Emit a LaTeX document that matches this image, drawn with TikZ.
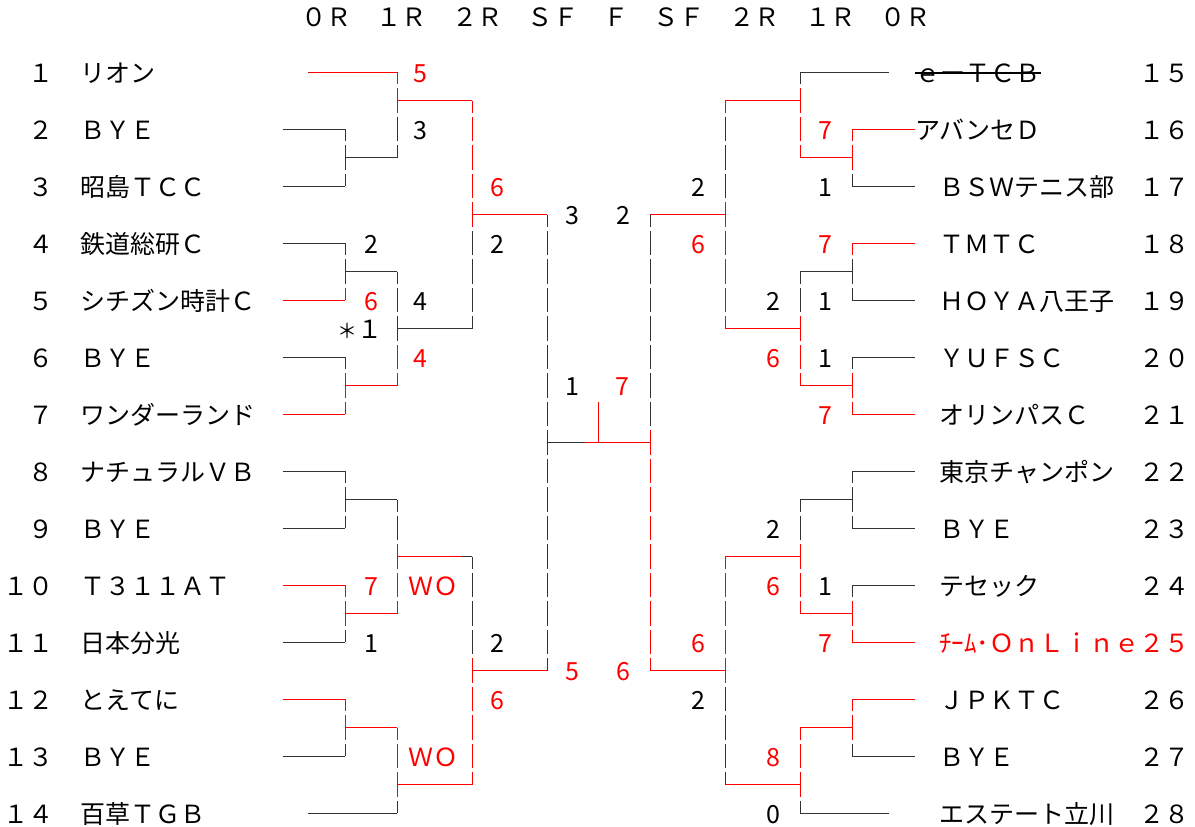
\documentclass[tikz,border=0pt]{standalone}
\usepackage{fontspec}
\setmainfont{Noto Sans CJK JP}

\tikzset{
  lost/.style={draw=black!80, line width=0.75pt},
  won/.style={draw=red, line width=0.75pt},
  cell/.style={dash pattern=on 18.375pt off 3pt, dash phase=9.1875pt},
  team/.style={anchor=base west, inner sep=0pt, yshift=-7.5pt},
  seed/.style={anchor=base east, inner sep=0pt, yshift=-7.5pt},
  score/.style={anchor=base, inner sep=0pt, yshift=-7.5pt},
}

\begin{document}
\begin{tikzpicture}[x=0.75pt, y=-21.375pt, font=\fontsize{18.75}{22}\selectfont]
\useasboundingbox (0,-2.5263) rectangle (1195,26.491);

\node[score, font=\fontsize{18.9}{22}\selectfont] (hdr) at (616,-1.93) {０Ｒ　１Ｒ　２Ｒ　ＳＦ　Ｆ　ＳＦ　２Ｒ　１Ｒ　０Ｒ};

\node[seed] (sd1) at (54,0) {１};
\node[team] (tm1) at (80,0) {リオン};
\node[seed] (sd2) at (54,2) {２};
\node[team] (tm2) at (80,2) {ＢＹＥ};
\node[seed] (sd3) at (54,4) {３};
\node[team] (tm3) at (80,4) {昭島ＴＣＣ};
\node[seed] (sd4) at (54,6) {４};
\node[team] (tm4) at (80,6) {鉄道総研Ｃ};
\node[seed] (sd5) at (54,8) {５};
\node[team] (tm5) at (80,8) {シチズン時計Ｃ};
\node[seed] (sd6) at (54,10) {６};
\node[team] (tm6) at (80,10) {ＢＹＥ};
\node[seed] (sd7) at (54,12) {７};
\node[team] (tm7) at (80,12) {ワンダーランド};
\node[seed] (sd8) at (54,14) {８};
\node[team] (tm8) at (80,14) {ナチュラルＶＢ};
\node[seed] (sd9) at (54,16) {９};
\node[team] (tm9) at (80,16) {ＢＹＥ};
\node[seed] (sd10) at (54,18) {１０};
\node[team] (tm10) at (80,18) {Ｔ３１１ＡＴ};
\node[seed] (sd11) at (54,20) {１１};
\node[team] (tm11) at (80,20) {日本分光};
\node[seed] (sd12) at (54,22) {１２};
\node[team] (tm12) at (80,22) {とえてに};
\node[seed] (sd13) at (54,24) {１３};
\node[team] (tm13) at (80,24) {ＢＹＥ};
\node[seed] (sd14) at (54,26) {１４};
\node[team] (tm14) at (80,26) {百草ＴＧＢ};

\node[team] (tm15) at (915,0) {ｅーＴＣＢ};
\node[seed] (sd15) at (1190,0) {１５};
\node[team] (tm16) at (915,2) {アバンセＤ};
\node[seed] (sd16) at (1190,2) {１６};
\node[team] (tm17) at (939,4) {ＢＳＷテニス部};
\node[seed] (sd17) at (1190,4) {１７};
\node[team] (tm18) at (939,6) {ＴＭＴＣ};
\node[seed] (sd18) at (1190,6) {１８};
\node[team] (tm19) at (939,8) {ＨＯＹＡ八王子};
\node[seed] (sd19) at (1190,8) {１９};
\node[team] (tm20) at (939,10) {ＹＵＦＳＣ};
\node[seed] (sd20) at (1190,10) {２０};
\node[team] (tm21) at (939,12) {オリンパスＣ};
\node[seed] (sd21) at (1190,12) {２１};
\node[team] (tm22) at (939,14) {東京チャンポン};
\node[seed] (sd22) at (1190,14) {２２};
\node[team] (tm23) at (939,16) {ＢＹＥ};
\node[seed] (sd23) at (1190,16) {２３};
\node[team] (tm24) at (939,18) {テセック};
\node[seed] (sd24) at (1190,18) {２４};
\node[team, text=red] (tm25) at (939,20) {ﾁｰﾑ･ＯｎＬｉｎｅ};
\node[seed, text=red] (sd25) at (1190,20) {２５};
\node[team] (tm26) at (939,22) {ＪＰＫＴＣ};
\node[seed] (sd26) at (1190,22) {２６};
\node[team] (tm27) at (939,24) {ＢＹＥ};
\node[seed] (sd27) at (1190,24) {２７};
\node[team] (tm28) at (939,26) {エステート立川};
\node[seed] (sd28) at (1190,26) {２８};
\draw[line width=1.5pt] (tm15.west) -- (tm15.east);

\draw[won] (308,0) -- (397,0);
\draw[lost] (283,2) -- (345,2);
\draw[lost] (283,4) -- (345,4);
\draw[lost, cell] (345,2) -- (345,4);
\draw[lost] (345,3) -- (397,3);
\draw[won, cell] (397,0) -- (397,1.5);
\draw[lost, cell] (397,3) -- (397,1.5);
\draw[won] (397,1) -- (472,1);
\draw[lost] (283,6) -- (345,6);
\draw[won] (283,8) -- (345,8);
\draw[lost, cell] (345,6) -- (345,7.5);
\draw[won, cell] (345,8) -- (345,7.5);
\draw[lost] (345,7) -- (397,7);
\draw[lost] (283,10) -- (345,10);
\draw[won] (283,12) -- (345,12);
\draw[lost, cell] (345,10) -- (345,10.5);
\draw[won, cell] (345,12) -- (345,10.5);
\draw[won] (345,11) -- (397,11);
\draw[lost, cell] (397,7) -- (397,9.5);
\draw[won, cell] (397,11) -- (397,9.5);
\draw[lost] (397,9) -- (472,9);
\draw[won, cell] (472,1) -- (472,5.5);
\draw[lost, cell] (472,9) -- (472,5.5);
\draw[won] (472,5) -- (547,5);

\draw[lost] (283,14) -- (345,14);
\draw[lost] (283,16) -- (345,16);
\draw[lost, cell] (345,14) -- (345,16);
\draw[lost] (345,15) -- (397,15);
\draw[won] (283,18) -- (345,18);
\draw[lost] (283,20) -- (345,20);
\draw[won, cell] (345,18) -- (345,19.5);
\draw[lost, cell] (345,20) -- (345,19.5);
\draw[won] (345,19) -- (397,19);
\draw[lost, cell] (397,15) -- (397,16.5);
\draw[won, cell] (397,19) -- (397,16.5);
\draw[won] (397,17) -- (462,17);
\draw[lost] (462,17) -- (472,17);
\draw[won] (283,22) -- (345,22);
\draw[lost] (283,24) -- (345,24);
\draw[won, cell] (345,22) -- (345,23.5);
\draw[lost, cell] (345,24) -- (345,23.5);
\draw[won] (345,23) -- (397,23);
\draw[lost] (308,26) -- (397,26);
\draw[won, cell] (397,23) -- (397,25.5);
\draw[lost, cell] (397,26) -- (397,25.5);
\draw[won] (397,25) -- (472,25);
\draw[lost, cell] (472,17) -- (472,20.5);
\draw[won, cell] (472,25) -- (472,20.5);
\draw[won] (472,21) -- (547,21);
\draw[lost, cell] (547,5) -- (547,21);

\draw[lost] (547,13) -- (585,13);
\draw[won] (585,13) -- (650,13);
\draw[won] (598,11.58) -- (598,13);

\draw[lost] (800,0) -- (889,0);
\draw[won] (852,2) -- (915,2);
\draw[lost] (852,4) -- (915,4);
\draw[won, cell] (852,2) -- (852,3.5);
\draw[lost, cell] (852,4) -- (852,3.5);
\draw[won] (800,3) -- (852,3);
\draw[lost, cell] (800,0) -- (800,0.5);
\draw[won, cell] (800,3) -- (800,0.5);
\draw[won] (725,1) -- (800,1);
\draw[won] (852,6) -- (915,6);
\draw[lost] (852,8) -- (915,8);
\draw[won, cell] (852,6) -- (852,6.5);
\draw[lost, cell] (852,8) -- (852,6.5);
\draw[lost] (800,7) -- (852,7);
\draw[lost] (852,10) -- (915,10);
\draw[won] (852,12) -- (915,12);
\draw[lost, cell] (852,10) -- (852,10.5);
\draw[won, cell] (852,12) -- (852,10.5);
\draw[won] (800,11) -- (852,11);
\draw[lost, cell] (800,7) -- (800,8.5);
\draw[won, cell] (800,11) -- (800,8.5);
\draw[won] (725,9) -- (800,9);
\draw[lost, cell] (725,1) -- (725,9);
\draw[won, cell] (725,1) -- (725,1.5);
\draw[won, cell] (725,9) -- (725,4.5);
\draw[won] (650,5) -- (725,5);

\draw[lost] (852,14) -- (915,14);
\draw[lost] (852,16) -- (915,16);
\draw[lost, cell] (852,14) -- (852,16);
\draw[lost] (800,15) -- (852,15);
\draw[lost] (852,18) -- (915,18);
\draw[won] (852,20) -- (915,20);
\draw[lost, cell] (852,18) -- (852,18.5);
\draw[won, cell] (852,20) -- (852,18.5);
\draw[won] (800,19) -- (852,19);
\draw[lost, cell] (800,15) -- (800,16.5);
\draw[won, cell] (800,19) -- (800,16.5);
\draw[won] (725,17) -- (800,17);
\draw[won] (852,22) -- (915,22);
\draw[lost] (852,24) -- (915,24);
\draw[won, cell] (852,22) -- (852,23.5);
\draw[lost, cell] (852,24) -- (852,23.5);
\draw[won] (800,23) -- (852,23);
\draw[lost] (800,26) -- (889,26);
\draw[won, cell] (800,23) -- (800,25.5);
\draw[lost, cell] (800,26) -- (800,25.5);
\draw[won] (725,25) -- (800,25);
\draw[won, cell] (725,17) -- (725,21.5);
\draw[lost, cell] (725,25) -- (725,21.5);
\draw[won] (650,21) -- (725,21);
\draw[lost, cell] (650,5) -- (650,12.5);
\draw[won, cell] (650,21) -- (650,12.5);

\node[score, text=red] (sc1) at (420,0) {5};
\node[score] (sc2) at (420,2) {3};
\node[score, text=red] (sc3) at (497,4) {6};
\node[score] (sc4) at (371,6) {2};
\node[score] (sc5) at (497,6) {2};
\node[score, text=red] (sc6) at (371,8) {6};
\node[score] (sc7) at (420,8) {4};
\node[seed] (sc8) at (383,9) {{\fontsize{15}{18}\selectfont＊}１};
\node[score, text=red] (sc9) at (420,10) {4};
\node[score, text=red] (sc10) at (371,18) {7};
\node[score, text=red] (sc11) at (433,18) {ＷＯ};
\node[score] (sc12) at (371,20) {1};
\node[score] (sc13) at (497,20) {2};
\node[score, text=red] (sc14) at (497,22) {6};
\node[score, text=red] (sc15) at (433,24) {ＷＯ};
\node[score] (sc16) at (572,5) {3};
\node[score, text=red] (sc17) at (572,21) {5};
\node[score] (sc18) at (572,11) {1};
\node[score, text=red] (sc19) at (622,11) {7};
\node[score] (sc20) at (623,5) {2};
\node[score, text=red] (sc21) at (623,21) {6};
\node[score] (sc22) at (698,4) {2};
\node[score, text=red] (sc23) at (698,6) {6};
\node[score, text=red] (sc24) at (698,20) {6};
\node[score] (sc25) at (698,22) {2};
\node[score] (sc26) at (773,8) {2};
\node[score, text=red] (sc27) at (773,10) {6};
\node[score] (sc28) at (773,16) {2};
\node[score, text=red] (sc29) at (773,18) {6};
\node[score, text=red] (sc30) at (773,24) {8};
\node[score] (sc31) at (773,26) {0};
\node[score, text=red] (sc32) at (825,2) {7};
\node[score] (sc33) at (825,4) {1};
\node[score, text=red] (sc34) at (825,6) {7};
\node[score] (sc35) at (825,8) {1};
\node[score] (sc36) at (825,10) {1};
\node[score, text=red] (sc37) at (825,12) {7};
\node[score] (sc38) at (825,18) {1};
\node[score, text=red] (sc39) at (825,20) {7};
\end{tikzpicture}
\end{document}
